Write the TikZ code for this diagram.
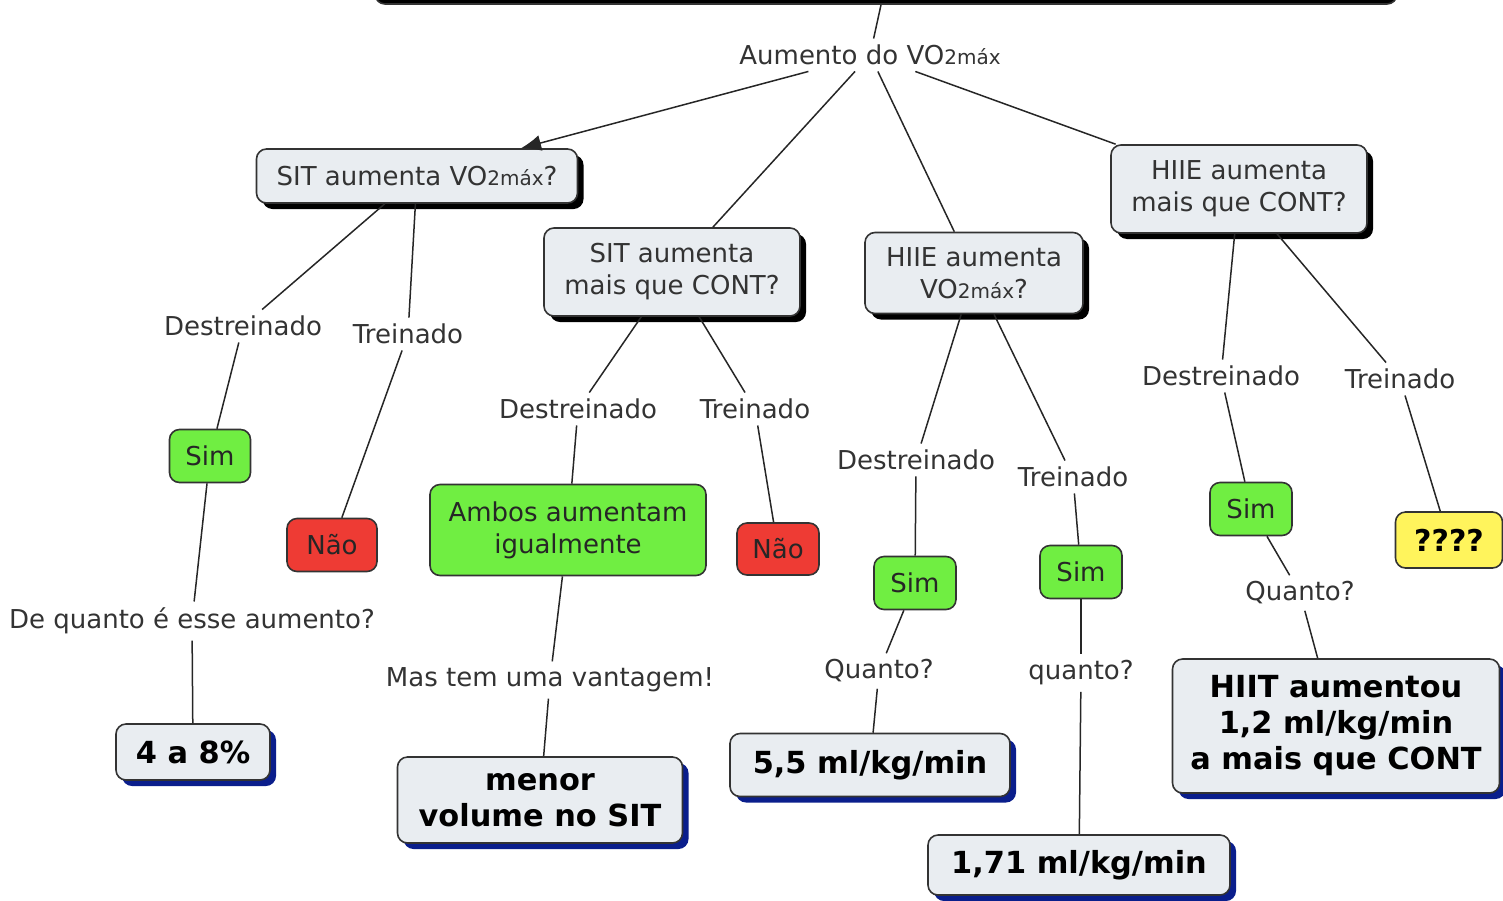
\documentclass[tikz,border=0pt]{standalone}
\usepackage{fontspec}
\setmainfont{DejaVu Sans}
\usetikzlibrary{arrows.meta,shadows}

\definecolor{boxgray}{HTML}{E9EDF1}
\definecolor{simgreen}{HTML}{70EE42}
\definecolor{naored}{HTML}{EE3B34}
\definecolor{duvida}{HTML}{FFF45C}
\definecolor{navyshade}{HTML}{0A1E8C}

% VO2max with the smaller "2máx"
\newcommand{\vomax}{VO{\fontsize{10}{12}\selectfont 2máx}}

\begin{document}
\begin{tikzpicture}[x=0.5pt, y=-0.5pt, font=\fontsize{13}{16}\selectfont,
    box/.style={draw=black!80, line width=0.8pt, rounded corners=5pt, align=center, inner sep=0pt},
    question/.style={box, fill=boxgray, text=black!80,
      drop shadow={shadow xshift=3pt, shadow yshift=-3pt, fill=black, opacity=1}},
    answer/.style={box, fill=boxgray, text=black, font=\fontsize{15.2}{18}\selectfont\bfseries,
      drop shadow={shadow xshift=3pt, shadow yshift=-3pt, fill=navyshade, opacity=1}},
    yes/.style={box, fill=simgreen, text=black!85},
    no/.style={box, fill=naored, text=black!85},
    unknown/.style={box, fill=duvida, text=black, font=\fontsize{15}{18}\selectfont\bfseries},
    link/.style={text=black!80, inner sep=3pt},
    conn/.style={draw=black!85, line width=0.75pt}]
  \useasboundingbox (0,0) rectangle (1503,900);
  \clip (0,0) rectangle (1503,900);

  % root (cut at the top edge)
  \node[box, fill=black, minimum width=511pt, minimum height=22pt] (root) at (886,-18) {};
  \node[link] (aum) at (870,55) {Aumento do \vomax};

  % four questions
  \node[question, minimum width=160.5pt, minimum height=27pt] (sitvo) at (417,176) {SIT aumenta \vomax?};
  \node[question, minimum width=128pt, minimum height=44pt] (sitcont) at (672,272) {SIT aumenta\\mais que CONT?};
  \node[question, minimum width=109pt, minimum height=40.5pt] (hiievo) at (974,273) {HIIE aumenta\\\vomax?};
  \node[question, minimum width=128pt, minimum height=44pt] (hiiecont) at (1239,189) {HIIE aumenta\\mais que CONT?};

  % SIT aumenta VO2max?
  \node[link] (d1) at (243,326) {Destreinado};
  \node[link] (t1) at (408,334) {Treinado};
  \node[yes, minimum width=40.5pt, minimum height=26.5pt] (s1) at (210,456) {Sim};
  \node[no, minimum width=45pt, minimum height=26.5pt] (x1) at (332,545) {Não};
  \node[link] (q1) at (192,621) {De quanto é esse aumento?};
  \node[answer, minimum width=77pt, minimum height=28pt] (r1) at (193,752) {4 a 8\%};

  % SIT aumenta mais que CONT?
  \node[link] (d2) at (578,409) {Destreinado};
  \node[link] (t2) at (755,409) {Treinado};
  \node[yes, minimum width=138pt, minimum height=45.5pt] (s2) at (568,530) {Ambos aumentam\\igualmente};
  \node[no, minimum width=41pt, minimum height=26pt] (x2) at (778,549) {Não};
  \node[link] (q2) at (550,680) {Mas tem uma vantagem!};
  \node[answer, minimum width=142.5pt, minimum height=43pt] (r2) at (540,800) {menor\\volume no SIT};

  % HIIE aumenta VO2max?
  \node[link] (d3) at (916,460) {Destreinado};
  \node[link] (t3) at (1073,477) {Treinado};
  \node[yes, minimum width=41pt, minimum height=26.5pt] (s3) at (915,583) {Sim};
  \node[yes, minimum width=41pt, minimum height=26.5pt] (s4) at (1081,572) {Sim};
  \node[link] (q3) at (879,671) {Quanto?};
  \node[link] (q4) at (1081,673) {quanto?};
  \node[answer, minimum width=140pt, minimum height=31.5pt] (r3) at (870,765) {5,5 ml/kg/min};
  \node[answer, minimum width=151pt, minimum height=30pt] (r4) at (1079,865) {1,71 ml/kg/min};

  % HIIE aumenta mais que CONT?
  \node[link] (d4) at (1221,376) {Destreinado};
  \node[link] (t4) at (1400,379) {Treinado};
  \node[yes, minimum width=41pt, minimum height=26.5pt] (s5) at (1251,509) {Sim};
  \node[unknown, minimum width=53.5pt, minimum height=28pt] (u5) at (1449,540) {????};
  \node[link] (q5) at (1300,593) {Quanto?};
  \node[answer, minimum width=163.5pt, minimum height=67pt] (r5) at (1336,726) {HIIT aumentou\\1,2 ml/kg/min\\a mais que CONT};

  % connectors
  \draw[conn] (root) -- (aum);
  \draw[conn, -{Latex[length=10pt,width=8pt]}] (aum) -- (sitvo);
  \foreach \q in {sitcont, hiievo, hiiecont}
    \draw[conn] (aum) -- (\q);

  \foreach \a/\b in {sitvo/d1, d1/s1, sitvo/t1, t1/x1, s1/q1, q1/r1,
                     sitcont/d2, d2/s2, sitcont/t2, t2/x2, s2/q2, q2/r2,
                     hiievo/d3, d3/s3, hiievo/t3, t3/s4, s3/q3, q3/r3, s4/q4, q4/r4,
                     hiiecont/d4, d4/s5, hiiecont/t4, t4/u5, s5/q5, q5/r5}
    \draw[conn] (\a) -- (\b);
\end{tikzpicture}
\end{document}
